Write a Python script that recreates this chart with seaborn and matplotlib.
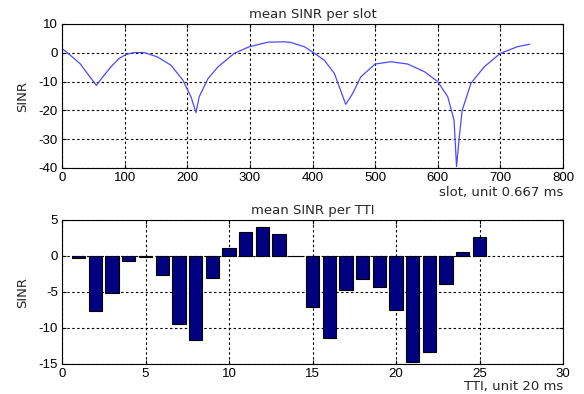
import matplotlib
matplotlib.use("Agg")
import matplotlib.pyplot as plt
import seaborn as sns
import numpy as np

# ---- data ----
slot_x = [0, 13, 29, 45, 55, 61, 78, 91, 102, 115, 131, 152, 174, 193, 206, 214,
          219, 233, 249, 275, 299, 329, 356, 365, 387, 400, 419, 435, 453, 464,
          477, 500, 525, 552, 579, 600, 616, 626, 630, 634, 639, 653, 674, 700,
          727, 747]
slot_sinr = [1.5, -0.8, -3.8, -8.5, -11.3, -9.5, -4.9, -2.0, -0.6, 0.1, 0.1, -1.4,
             -4.3, -9.5, -15.3, -20.8, -15.3, -9.0, -4.9, -0.2, 2.1, 3.7, 3.8, 3.6,
             2.1, 0.3, -2.6, -7.2, -17.9, -14.2, -8.4, -3.9, -3.1, -3.9, -6.6,
             -10.0, -15.3, -23.4, -39.5, -30.0, -20.0, -10.6, -4.9, -0.2, 2.1, 3.0]

tti = list(range(1, 26))
tti_sinr = [-0.3, -7.6, -5.1, -0.7, -0.15, -2.7, -9.4, -11.6, -3.1, 1.1, 3.3, 4.0,
            3.0, -0.05, -7.1, -11.4, -4.7, -3.2, -4.3, -7.45, -14.7, -13.3, -3.9,
            0.6, 2.6]

top_xticks = [0, 100, 200, 300, 400, 500, 600, 700, 800]
top_yticks = [-40, -30, -20, -10, 0, 10]
bot_xticks = [0, 5, 10, 15, 20, 25, 30]
bot_yticks = [-15, -10, -5, 0, 5]

sns.set_theme(style="white")
plt.rcParams["font.family"] = ["Liberation Sans", "DejaVu Sans"]
plt.rcParams["axes.unicode_minus"] = False

W, H = 584, 394
fig = plt.figure(figsize=(W / 100, H / 100), dpi=100)
fig.patch.set_facecolor("white")

def frac(l, t, r, b):
    return [l / W, 1 - b / H, (r - l) / W, (b - t) / H]

ax1 = fig.add_axes(frac(62, 24, 563, 168))
ax2 = fig.add_axes(frac(62, 220, 563, 364))

grid_kw = dict(color="black", linestyle=(0, (2.2, 2.2)), linewidth=0.8)
lab_font = dict(fontsize=9.5, family=["DejaVu Sans"])
tick_size = 9.5

# top: line
sns.lineplot(x=slot_x, y=slot_sinr, ax=ax1, color="#4a4aff", linewidth=0.9)
ax1.set_xlim(0, 800)
ax1.set_ylim(-40, 10)
ax1.set_xticks(top_xticks)
ax1.set_yticks(top_yticks)
ax1.set_title("mean SINR per slot", pad=4, **lab_font)
ax1.set_xlabel("slot, unit 0.667 ms", loc="right", labelpad=1, **lab_font)
ax1.set_ylabel("SINR", labelpad=7, **lab_font)

# bottom: bars
sns.barplot(x=tti, y=tti_sinr, ax=ax2, native_scale=True, width=0.8,
            color="#000080", edgecolor="black", linewidth=0.8,
            saturation=1, errorbar=None)
ax2.set_xlim(0, 30)
ax2.set_ylim(-15, 5)
ax2.set_xticks(bot_xticks)
ax2.set_xticklabels([str(v) for v in bot_xticks])
ax2.set_yticks(bot_yticks)
ax2.set_title("mean SINR per TTI", pad=4, **lab_font)
ax2.set_xlabel("TTI, unit 20 ms", loc="right", labelpad=0, **lab_font)
ax2.set_ylabel("SINR", labelpad=7, **lab_font)

for ax in (ax1, ax2):
    ax.set_axisbelow(True)
    ax.grid(True, **grid_kw)
    for s in ax.spines.values():
        s.set_visible(True)
        s.set_color("black")
        s.set_linewidth(0.8)
    ax.tick_params(direction="in", length=3, width=0.8, colors="black",
                   labelsize=tick_size, pad=3, top=True, right=True,
                   bottom=True, left=True)
    ax.set_facecolor("white")

fig.savefig("out.png", dpi=100, facecolor="white")
